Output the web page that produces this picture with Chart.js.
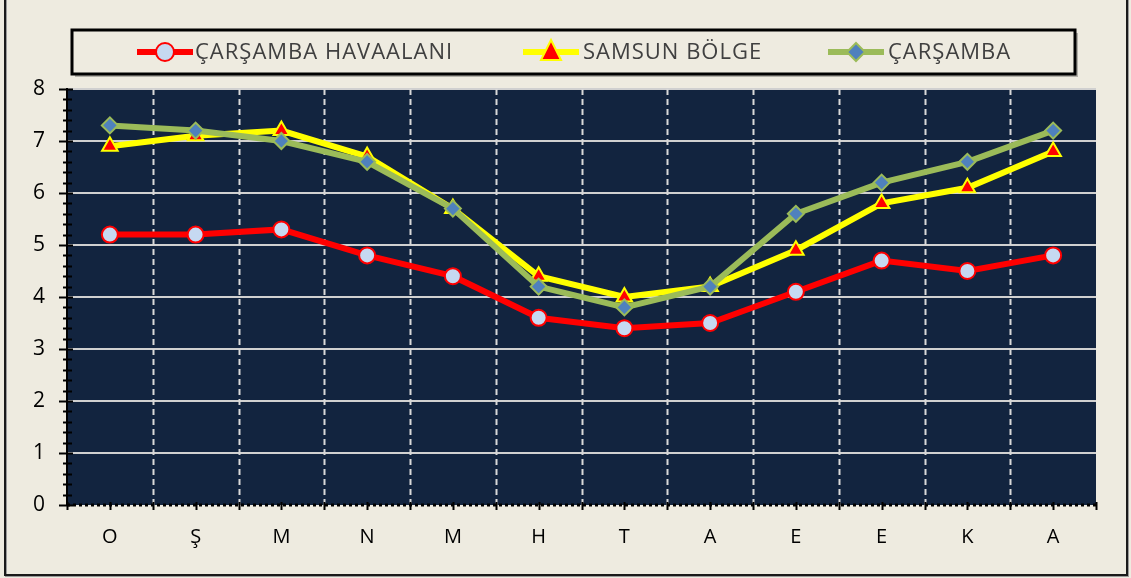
<!DOCTYPE html>
<html>
<head>
<meta charset="utf-8">
<script src="https://cdn.jsdelivr.net/npm/chart.js@4/dist/chart.umd.min.js"></script>
<style>
  html, body { margin: 0; padding: 0; background: #EEEBE0; }
  #wrap { width: 1131px; height: 578px; position: relative; }
</style>
</head>
<body>
<div id="wrap"><canvas id="chart" width="1131" height="578"></canvas></div>
<script>
// veriler
const months = ["O", "Ş", "M", "N", "M", "H", "T", "A", "E", "E", "K", "A"];
const havaalani = [5.2, 5.2, 5.3, 4.8, 4.4, 3.6, 3.4, 3.5, 4.1, 4.7, 4.5, 4.8];
const samsunBolge = [6.9, 7.1, 7.2, 6.7, 5.7, 4.4, 4.0, 4.2, 4.9, 5.8, 6.1, 6.8];
const carsamba = [7.3, 7.2, 7.0, 6.6, 5.7, 4.2, 3.8, 4.2, 5.6, 6.2, 6.6, 7.2];
const yTicks = [0, 1, 2, 3, 4, 5, 6, 7, 8];
const seriesNames = ["ÇARŞAMBA HAVAALANI", "SAMSUN BÖLGE", "ÇARŞAMBA"];

const FONT = "'Open Sans', 'Noto Sans', sans-serif";

function drawMarker(ctx, style, x, y, r) {
    if (style === 'circle') {
        ctx.arc(x, y, r, 0, Math.PI * 2);
    } else if (style === 'triangle') {
        ctx.moveTo(x, y - r * 1.2);
        ctx.lineTo(x + r, y + r * 0.8);
        ctx.lineTo(x - r, y + r * 0.8);
        ctx.closePath();
    } else {
        ctx.moveTo(x, y - r);
        ctx.lineTo(x + r, y);
        ctx.lineTo(x, y + r);
        ctx.lineTo(x - r, y);
        ctx.closePath();
    }
}

// çizim alanı arka planı, çerçeve ve lejant
const decor = {
    id: 'decor',
    beforeDraw(chart) {
        const { ctx, chartArea: a } = chart;
        ctx.save();
        // dış çerçeve
        ctx.strokeStyle = '#9a9a9a';
        ctx.lineWidth = 2;
        ctx.strokeRect(6, -5, 1122, 581);
        ctx.strokeStyle = '#1a1a1a';
        ctx.strokeRect(5, -6, 1122, 581);
        // lacivert alan
        ctx.fillStyle = '#12243F';
        ctx.fillRect(a.left, a.top, a.right - a.left, a.bottom - a.top);
        ctx.restore();
    },
    afterDraw(chart) {
        const { ctx, chartArea: a } = chart;
        const y = chart.scales.y;
        ctx.save();
        // y ekseni ve küçük çentikler
        ctx.strokeStyle = '#000';
        ctx.lineWidth = 2;
        ctx.beginPath();
        ctx.moveTo(a.left, a.top - 1);
        ctx.lineTo(a.left, a.bottom);
        ctx.stroke();
        for (let i = 0; i <= 40; i++) {
            const py = Math.round(y.getPixelForValue(i / 5)) + 0.5;
            ctx.beginPath();
            if (i % 5 === 0) { ctx.moveTo(a.left - 8, py); ctx.lineTo(a.left + 6, py); }
            else { ctx.moveTo(a.left - 4, py); ctx.lineTo(a.left + 5, py); }
            ctx.stroke();
        }
        // x ekseni (noktalı)
        ctx.lineWidth = 3;
        ctx.setLineDash([3, 3]);
        ctx.beginPath();
        ctx.moveTo(a.left, a.bottom);
        ctx.lineTo(a.right, a.bottom);
        ctx.stroke();
        ctx.setLineDash([]);
        ctx.lineWidth = 2;
        const step = (a.right - a.left) / months.length;
        for (let i = 0; i <= months.length * 2; i++) {
            const px = Math.round(a.left + i * step / 2) + 0.5;
            ctx.beginPath();
            ctx.moveTo(px, a.bottom - 3);
            ctx.lineTo(px, a.bottom + 5);
            ctx.stroke();
        }
        // lejant
        const L = { l: 72, t: 30, r: 1075, b: 74 };
        ctx.fillStyle = 'rgba(0,0,0,0.25)';
        ctx.fillRect(L.l + 3, L.t + 3, L.r - L.l, L.b - L.t);
        ctx.fillStyle = '#EEEBE0';
        ctx.fillRect(L.l, L.t, L.r - L.l, L.b - L.t);
        ctx.strokeStyle = '#000';
        ctx.lineWidth = 3;
        ctx.strokeRect(L.l, L.t, L.r - L.l, L.b - L.t);
        const cy = 52;
        const items = [
            { x: 137, text: 195 },
            { x: 523, text: 583 },
            { x: 828, text: 888 }
        ];
        chart.data.datasets.forEach((ds, i) => {
            const it = items[i];
            ctx.strokeStyle = ds.borderColor;
            ctx.lineWidth = 6;
            ctx.beginPath();
            ctx.moveTo(it.x, cy);
            ctx.lineTo(it.x + 56, cy);
            ctx.stroke();
            ctx.fillStyle = ds.pointBackgroundColor;
            ctx.strokeStyle = ds.pointBorderColor;
            ctx.lineWidth = ds.pointBorderWidth;
            ctx.beginPath();
            drawMarker(ctx, ds.pointStyle, it.x + 28, cy, ds.pointRadius + 1);
            ctx.fill();
            ctx.stroke();
            ctx.fillStyle = '#404040';
            ctx.font = '22px ' + FONT;
            ctx.letterSpacing = '1px';
            ctx.textBaseline = 'middle';
            ctx.fillText(seriesNames[i], it.text, cy + 1);
            ctx.letterSpacing = '0px';
        });
        ctx.restore();
    }
};

new Chart(document.getElementById('chart'), {
    type: 'line',
    data: {
        labels: months,
        datasets: [
            {
                label: seriesNames[0], data: havaalani, order: 2,
                borderColor: '#FF0000', borderWidth: 6,
                pointStyle: 'circle', pointRadius: 8,
                pointBackgroundColor: '#C6D9F1', pointBorderColor: '#FF0000', pointBorderWidth: 2
            },
            {
                label: seriesNames[1], data: samsunBolge, order: 1,
                borderColor: '#FFFF00', borderWidth: 6,
                pointStyle: 'triangle', pointRadius: 9,
                pointBackgroundColor: '#FF0000', pointBorderColor: '#FFFF00', pointBorderWidth: 2
            },
            {
                label: seriesNames[2], data: carsamba, order: 0,
                borderColor: '#9BBB59', borderWidth: 6,
                pointStyle: 'rectRot', pointRadius: 8,
                pointBackgroundColor: '#4F81BD', pointBorderColor: '#9BBB59', pointBorderWidth: 2
            }
        ]
    },
    options: {
        responsive: false,
        animation: false,
        layout: { padding: { top: 89, right: 35, left: 0, bottom: 0 } },
        plugins: { legend: { display: false }, tooltip: { enabled: false } },
        scales: {
            x: {
                offset: true,
                grid: { display: false },
                border: { display: false },
                ticks: { color: '#000', font: { family: FONT, size: 20 }, padding: 12 },
                afterFit(s) { s.height = 73; }
            },
            y: {
                min: 0, max: 8,
                afterBuildTicks(s) { s.ticks = yTicks.map(v => ({ value: v })); },
                grid: { color: ctx => ctx.tick.value === 0 ? 'rgba(0,0,0,0)' : '#D0D0D0', lineWidth: 2, drawTicks: false },
                border: { display: false },
                ticks: { color: '#000', font: { family: FONT, size: 21 }, padding: 22 },
                afterFit(s) { s.width = 67; }
            }
        }
    },
    plugins: [decor, {
        id: 'dashGrid',
        beforeDatasetsDraw(chart) {
            // dikey kesikli çizgiler
            const { ctx, chartArea: a } = chart;
            const step = (a.right - a.left) / months.length;
            ctx.save();
            ctx.strokeStyle = '#D9D9D9';
            ctx.lineWidth = 2;
            ctx.setLineDash([6, 4]);
            for (let i = 1; i < months.length; i++) {
                const px = Math.round(a.left + i * step) + 0.5;
                ctx.beginPath();
                ctx.moveTo(px, a.top);
                ctx.lineTo(px, a.bottom);
                ctx.stroke();
            }
            ctx.restore();
        }
    }]
});
</script>
</body>
</html>
